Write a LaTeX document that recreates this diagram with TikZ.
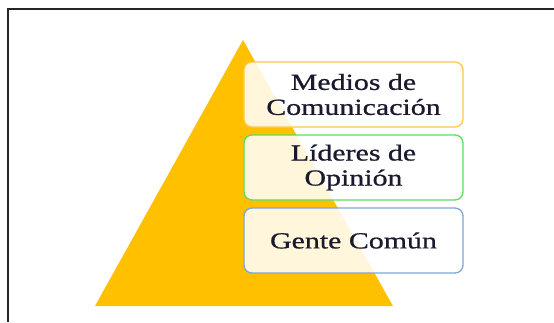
\documentclass[tikz,border=0pt]{standalone}
\usepackage{fontspec}
\setmainfont{Liberation Serif}
\newfontfamily\levelfont[FakeStretch=1.3,FakeBold=0.8]{Liberation Serif}
\usetikzlibrary{positioning}
\definecolor{pyrgold}{HTML}{FFC000}
\definecolor{edgegold}{HTML}{FFC84A}
\definecolor{edgegreen}{HTML}{5DDD5D}
\definecolor{edgeblue}{HTML}{7EA6D6}
\definecolor{inkdark}{HTML}{1A1A2E}
\newcommand{\Level}[4]% pos, name, colour, text
{\node[level,draw=#3] (#2) at (#1) {#4};
}

\begin{document}
\begin{tikzpicture}[x=1pt,y=-1pt,
    level/.style={rectangle,rounded corners=8pt,line width=1.3pt,
      fill=white,fill opacity=0.86,text opacity=1,text=inkdark,
      minimum width=219pt,minimum height=65pt,inner sep=0pt,
      align=center,font=\levelfont\fontsize{23}{25}\selectfont}]
  \useasboundingbox (0,0) rectangle (554,322);
  \fill[white] (0,0) rectangle (554,322);
  % frame
  \draw[line width=1.4pt,black!85] (8,322) -- (8,9) -- (554,9);
  % pyramid
  \coordinate (apex) at (243,40);
  \coordinate (baseL) at (95,306);
  \coordinate (baseR) at (393,306);
  \fill[pyrgold] (apex) -- (baseL) -- (baseR) -- cycle;
  % levels
  \Level{353.5,94.5}{medios}{edgegold}{Medios de\\Comunicación}
  \Level{353.5,167.5}{lideres}{edgegreen}{Líderes de\\Opinión}
  \Level{353.5,240.5}{gente}{edgeblue}{Gente Común}
\end{tikzpicture}
\end{document}
